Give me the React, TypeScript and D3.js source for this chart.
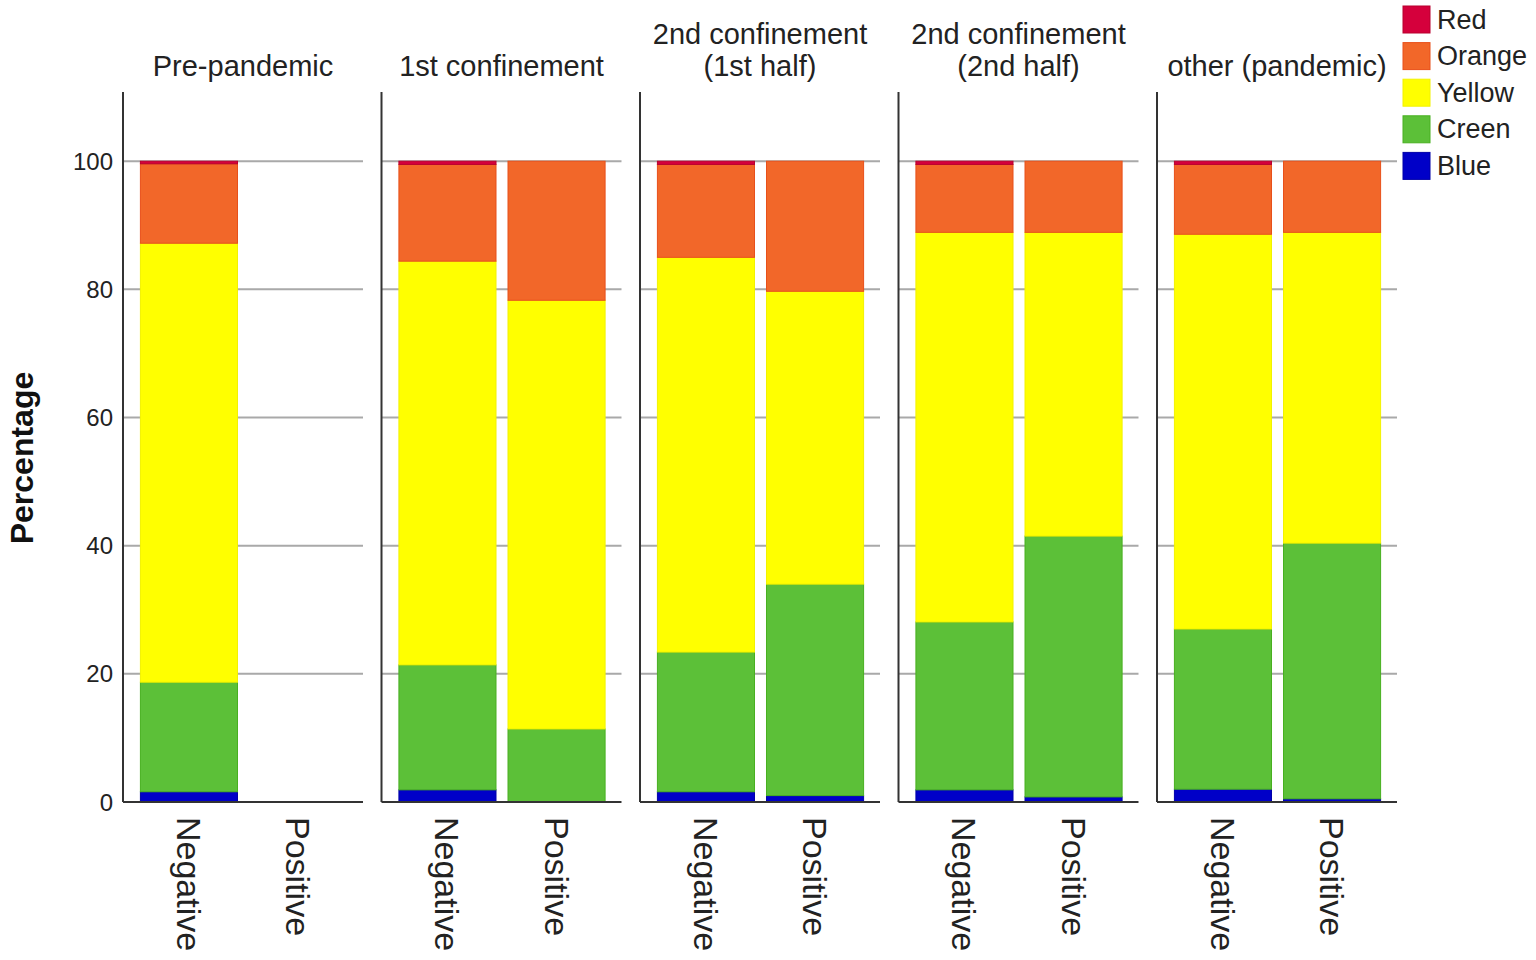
import * as d3 from "d3";

// facets (panel titles, split in lines) and the two bars inside each
const periods = [
  "Pre-pandemic",
  "1st confinement",
  "2nd confinement (1st half)",
  "2nd confinement (2nd half)",
  "other (pandemic)",
];
const periodLines = [
  ["Pre-pandemic"],
  ["1st confinement"],
  ["2nd confinement", "(1st half)"],
  ["2nd confinement", "(2nd half)"],
  ["other (pandemic)"],
];
const groups = ["Negative", "Positive"];

// legend / stack keys, top to bottom as in the legend
const levels = ["Red", "Orange", "Yellow", "Green", "Blue"];
const legendLabels = ["Red", "Orange", "Yellow", "Creen", "Blue"];
const levelColors = ["#d5003c", "#f26729", "#ffff00", "#5cc038", "#0000c8"];
const levelStrokes = ["#b8002e", "#e8501a", "#f2f200", "#48b020", "#0000a8"];

// percentages, ordered period by period: [Neg, Pos, Neg, Pos, ...]
const bluePct = [1.6, 0, 1.9, 0, 1.6, 1.0, 1.9, 0.8, 2.0, 0.5];
const greenPct = [17.1, 0, 19.5, 11.4, 21.8, 33.0, 26.2, 40.7, 25.0, 39.9];
const yellowPct = [68.5, 0, 63.0, 66.9, 61.6, 45.7, 60.8, 47.4, 61.6, 48.5];
const orangePct = [12.4, 0, 15.1, 21.7, 14.5, 20.3, 10.6, 11.1, 10.9, 11.1];
const redPct = [0.4, 0, 0.5, 0, 0.5, 0, 0.5, 0, 0.5, 0];

const yTicks = [0, 20, 40, 60, 80, 100];

const FONT = "'Liberation Sans', Arial, sans-serif";

const App = () => {
  const W = 1536;
  const H = 960;

  // build the table for d3.stack
  const rows = periods.flatMap((p, i) =>
    groups.map((g, j) => {
      const k = i * 2 + j;
      return {
        period: p,
        group: g,
        Blue: bluePct[k],
        Green: greenPct[k],
        Yellow: yellowPct[k],
        Orange: orangePct[k],
        Red: redPct[k],
      };
    })
  );
  const stackKeys = ["Blue", "Green", "Yellow", "Orange", "Red"];
  const series = d3.stack<any>().keys(stackKeys)(rows);

  // scales
  const facet = d3.scaleBand().domain(periods).range([123, 1397]).paddingInner(0.0716);
  const xBar = d3
    .scaleBand()
    .domain(groups)
    .range([6.5, 234.5])
    .paddingInner(0.11)
    .paddingOuter(0.1);
  const y = d3.scaleLinear().domain([0, 110.8]).range([802, 92]);

  return (
    <svg
      width={W}
      height={H}
      style={{ position: "absolute", left: 0, top: 0, background: "#fff" }}
      fontFamily={FONT}
    >
      {/* y axis title */}
      <text
        transform={`translate(22, 458) rotate(-90)`}
        textAnchor="middle"
        dominantBaseline="central"
        fontSize={32}
        fontWeight="bold"
        fill="#111"
      >
        Percentage
      </text>

      {/* y tick labels */}
      {yTicks.map((t) => (
        <text
          key={t}
          x={113}
          y={y(t)}
          textAnchor="end"
          dominantBaseline="central"
          fontSize={24}
          fill="#222"
        >
          {t}
        </text>
      ))}

      {periods.map((p, i) => {
        const x0 = facet(p)!;
        const bw = facet.bandwidth();
        const lines = periodLines[i];
        return (
          <g key={p} transform={`translate(${x0},0)`}>
            {/* panel title */}
            {lines.map((l, li) => (
              <text
                key={li}
                x={bw / 2}
                y={76 - (lines.length - 1 - li) * 32}
                textAnchor="middle"
                fontSize={29}
                fill="#222"
              >
                {l}
              </text>
            ))}
            {/* gridlines */}
            {yTicks
              .filter((t) => t > 0)
              .map((t) => (
                <line
                  key={t}
                  x1={0}
                  x2={bw}
                  y1={y(t)}
                  y2={y(t)}
                  stroke="#a9a9a9"
                  strokeWidth={2}
                />
              ))}
            {/* stacked bars */}
            {series.map((s) => {
              const li = levels.indexOf(s.key);
              return s
                .filter((d: any) => d.data.period === p && d[1] - d[0] > 0)
                .map((d: any) => (
                  <rect
                    key={s.key + d.data.group}
                    x={xBar(d.data.group)}
                    width={xBar.bandwidth()}
                    y={y(d[1])}
                    height={y(d[0]) - y(d[1])}
                    fill={levelColors[li]}
                    stroke={levelStrokes[li]}
                    strokeWidth={1}
                  />
                ));
            })}
            {/* axes */}
            <line x1={0} x2={0} y1={y(110.8)} y2={y(0)} stroke="#333" strokeWidth={2} />
            <line x1={0} x2={bw} y1={y(0)} y2={y(0)} stroke="#333" strokeWidth={2} />
            {/* category labels */}
            {groups.map((g) => (
              <text
                key={g}
                transform={`translate(${xBar(g)! + xBar.bandwidth() / 2}, 817) rotate(90)`}
                dominantBaseline="central"
                fontSize={34}
                fill="#222"
              >
                {g}
              </text>
            ))}
          </g>
        );
      })}

      {/* legend */}
      {levels.map((l, i) => (
        <g key={l} transform={`translate(1403, ${6 + i * 36.6})`}>
          <rect
            width={27}
            height={27}
            fill={levelColors[i]}
            stroke={levelStrokes[i]}
            strokeWidth={1}
          />
          <text x={34} y={13.5} dominantBaseline="central" fontSize={27} fill="#222">
            {legendLabels[i]}
          </text>
        </g>
      ))}
    </svg>
  );
};

export default App;
